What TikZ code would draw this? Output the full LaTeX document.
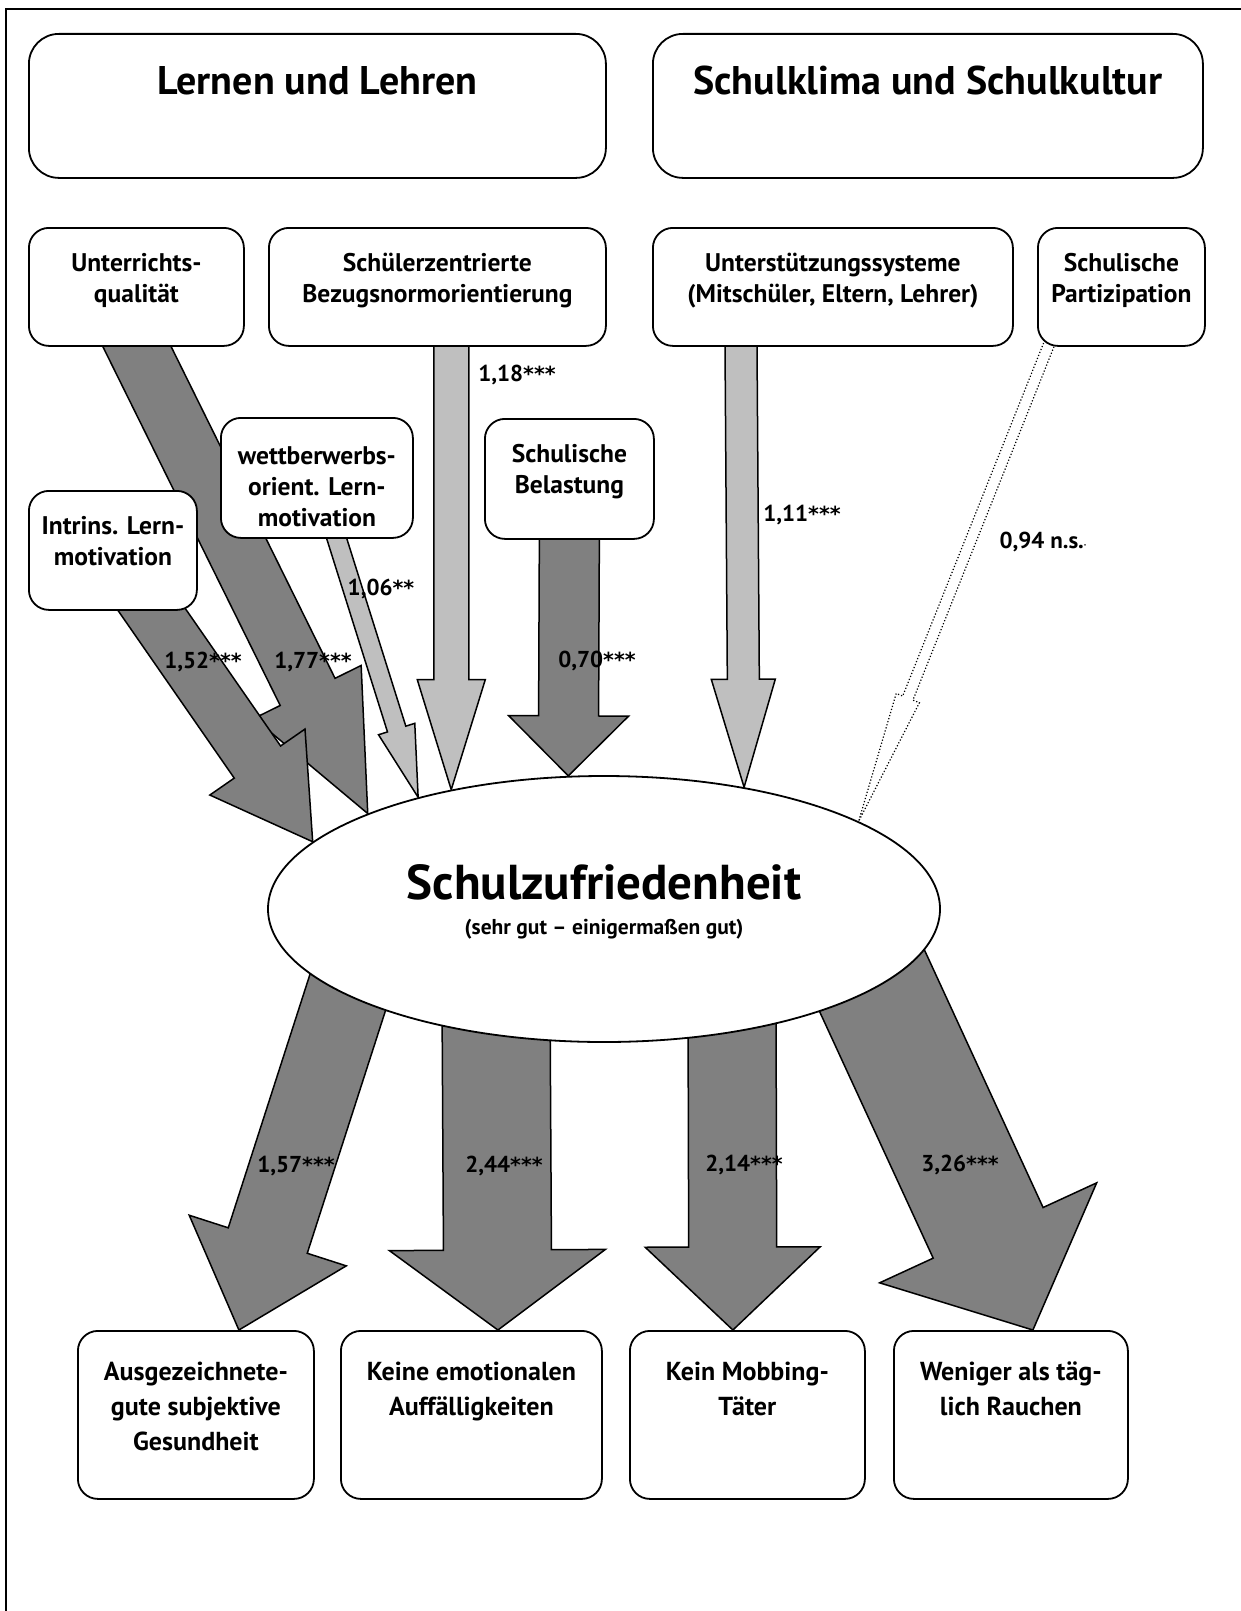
\documentclass[tikz,border=0pt]{standalone}
\usepackage{fontspec}
\setmainfont{PT Sans}
\newfontfamily\sternfont{DejaVu Sans}[Scale=0.9]
\usetikzlibrary{positioning,calc,shapes.geometric,backgrounds}

\definecolor{dunkel}{gray}{0.5}
\definecolor{hell}{gray}{0.75}

\newcommand{\sterne}[1]{{\sternfont #1}}

% block arrow from (#2s) to (#2t): shaft half width, head half width, head length
\newcommand{\blockarrow}[5][]{%
  \coordinate (#2h) at ($(#2t)!#5!(#2s)$);
  \draw[#1] ($(#2s)!#3!90:(#2t)$) -- ($(#2h)!#3!90:(#2t)$) -- ($(#2h)!#4!90:(#2t)$)
    -- (#2t) -- ($(#2h)!#4!-90:(#2t)$) -- ($(#2h)!#3!-90:(#2t)$)
    -- ($(#2s)!#3!-90:(#2t)$) -- cycle;}

\begin{document}
\begin{tikzpicture}[x=1pt, y=-1pt,
	box/.style={draw, line width=1.8pt, rounded corners=20pt, fill=white, inner sep=0pt, anchor=north west},
	bigbox/.style={box, rounded corners=30pt},
	titel/.style={font=\fontsize{40}{46}\selectfont\bfseries, inner sep=0pt},
	txt/.style={font=\fontsize{25.5}{31}\selectfont\bfseries, align=center, inner sep=0pt},
	ziel/.style={font=\fontsize{26}{35}\selectfont\bfseries, align=center, inner sep=0pt},
	wert/.style={font=\fontsize{23}{27}\selectfont\bfseries, inner sep=0pt},
	pfeil/.style={draw, line width=1.5pt, line join=miter},
	dunkelpfeil/.style={pfeil, fill=dunkel},
	hellpfeil/.style={pfeil, fill=hell},
	nspfeil/.style={pfeil, fill=white, line width=1.2pt, dotted}
	]
	\useasboundingbox (0,0) rectangle (1240,1611);
	\draw[line width=2pt] (6,1620) -- (6,9) -- (1250,9);

	% boxes
	\node[bigbox, minimum width=577pt, minimum height=144pt] (ll) at (28,33) {};
	\node[bigbox, minimum width=550pt, minimum height=144pt] (sk) at (652,33) {};
	\node[box, minimum width=215pt, minimum height=118pt] (uq) at (28,227) {};
	\node[box, minimum width=337pt, minimum height=118pt] (bn) at (268,227) {};
	\node[box, minimum width=360pt, minimum height=118pt] (us) at (652,227) {};
	\node[box, minimum width=167pt, minimum height=118pt] (sp) at (1037,227) {};
	\node[box, minimum width=168pt, minimum height=119pt] (im) at (28,490) {};
	\node[box, minimum width=192pt, minimum height=120pt] (wm) at (220,417) {};
	\node[box, minimum width=169pt, minimum height=120pt] (sb) at (484,418) {};
	\node[box, minimum width=236pt, minimum height=168pt] (g1) at (77,1330) {};
	\node[box, minimum width=261pt, minimum height=168pt] (g2) at (340,1330) {};
	\node[box, minimum width=235pt, minimum height=168pt] (g3) at (629,1330) {};
	\node[box, minimum width=234pt, minimum height=168pt] (g4) at (893,1330) {};
	\node[ellipse, draw, fill=white, line width=1.8pt, minimum width=672pt, minimum height=266pt, inner sep=0pt] (sz) at (604,909) {};

	\coordinate (a1s) at ([xshift=-9.1pt,yshift=19.8pt]uq.south);
	\coordinate (a1t) at (sz.158.3);
	\coordinate (a2s) at ([xshift=26pt,yshift=19.7pt]im.south);
	\coordinate (a2t) at (sz.167.3);
	\coordinate (a3s) at ([xshift=14.2pt,yshift=18.1pt]wm.south);
	\coordinate (a3t) at (sz.149.5);
	\coordinate (a4s) at ([xshift=14pt,yshift=15pt]bn.south);
	\coordinate (a4t) at (sz.142.5);
	\coordinate (a5s) at ([yshift=13pt]sb.south);
	\coordinate (a5t) at (sz.105.3);
	\coordinate (a6s) at ([xshift=-92pt,yshift=15pt]us.south);
	\coordinate (a6t) at (sz.41.7);
	\coordinate (a7s) at ([xshift=-67.8pt,yshift=14pt]sp.south);
	\coordinate (a7t) at (sz.19.7);
	\coordinate (b1s) at ([xshift=-240pt,yshift=-33pt]sz.center);
	\coordinate (b1t) at ([xshift=43pt]g1.north);
	\coordinate (b2s) at ([xshift=-108pt,yshift=-91pt]sz.center);
	\coordinate (b2t) at ([xshift=26.5pt]g2.north);
	\coordinate (b3s) at ([xshift=128pt,yshift=-91pt]sz.center);
	\coordinate (b3t) at ([xshift=-14.5pt]g3.north);
	\coordinate (b4s) at ([xshift=252pt,yshift=-37pt]sz.center);
	\coordinate (b4t) at ([xshift=22pt]g4.north);

	\begin{pgfonlayer}{background}
		\blockarrow[dunkelpfeil]{a1}{30.6pt}{59.7pt}{135.7pt}
		\blockarrow[dunkelpfeil]{a2}{28.2pt}{57.9pt}{97pt}
		\blockarrow[hellpfeil]{a3}{9.6pt}{19pt}{71.6pt}
		\blockarrow[hellpfeil]{a4}{17.5pt}{34pt}{110pt}
		\blockarrow[dunkelpfeil]{a5}{30pt}{60pt}{60pt}
		\blockarrow[hellpfeil]{a6}{16pt}{32pt}{108pt}
		\blockarrow[nspfeil]{a7}{5.5pt}{12.5pt}{132.7pt}
		\blockarrow[dunkelpfeil]{b1}{41.5pt}{82.5pt}{94pt}
		\blockarrow[dunkelpfeil]{b2}{54pt}{108pt}{80pt}
		\blockarrow[dunkelpfeil]{b3}{44pt}{87.5pt}{83pt}
		\blockarrow[dunkelpfeil]{b4}{60.5pt}{119.5pt}{107pt}
	\end{pgfonlayer}

	% texts
	\node[titel, below=33pt of ll.north] (llt) {Lernen und Lehren};
	\node[titel, below=33pt of sk.north] (skt) {Schulklima und Schulkultur};
	\node[txt, below=26pt of uq.north] (uqt) {Unterrichts-\\qualität};
	\node[txt, below=26pt of bn.north] (bnt) {Schülerzentrierte\\Bezugsnormorientierung};
	\node[txt, below=26pt of us.north] (ust) {Unterstützungssysteme\\(Mitschüler, Eltern, Lehrer)};
	\node[txt, below=26pt of sp.north] (spt) {Schulische\\Partizipation};
	\node[txt, below=26pt of im.north] (imt) {Intrins. Lern-\\motivation};
	\node[txt, below=29pt of wm.north] (wmt) {wettberwerbs-\\orient. Lern-\\motivation};
	\node[txt, below=26pt of sb.north] (sbt) {Schulische\\Belastung};
	\node[ziel, below=32pt of g1.north] (g1t) {Ausgezeichnete-\\gute subjektive\\Gesundheit};
	\node[ziel, below=32pt of g2.north] (g2t) {Keine emotionalen\\Auffälligkeiten};
	\node[ziel, below=32pt of g3.north] (g3t) {Kein Mobbing-\\Täter};
	\node[ziel, below=32pt of g4.north] (g4t) {Weniger als täg-\\lich Rauchen};
	\node[anchor=base, inner sep=0pt, font=\fontsize{49}{54}\selectfont\bfseries] (szt) at ([yshift=10pt]sz.center) {Schulzufriedenheit};
	\node[anchor=base, inner sep=0pt, font=\fontsize{21.5}{25}\selectfont\bfseries] (szu) at ([yshift=-25pt]sz.center) {(sehr gut – einigermaßen gut)};

	\node[wert] (w118) at (517,375) {1,18\sterne{***}};
	\node[wert] (w106) at (381,589) {1,06\sterne{**}};
	\node[wert] (w152) at (203,662) {1,52\sterne{***}};
	\node[wert] (w177) at (313,662) {1,77\sterne{***}};
	\node[wert] (w070) at (597,661) {0,70\sterne{***}};
	\node[wert] (w111) at (802,515) {1,11\sterne{***}};
	\node[wert] (w094) at (1043,542) {0,94 n.s.{\fontsize{10}{10}\selectfont·}};
	\node[wert] (w157) at (296,1166) {1,57\sterne{***}};
	\node[wert] (w244) at (504,1166) {2,44\sterne{***}};
	\node[wert] (w214) at (744,1165) {2,14\sterne{***}};
	\node[wert] (w326) at (960,1165) {3,26\sterne{***}};
\end{tikzpicture}
\end{document}
